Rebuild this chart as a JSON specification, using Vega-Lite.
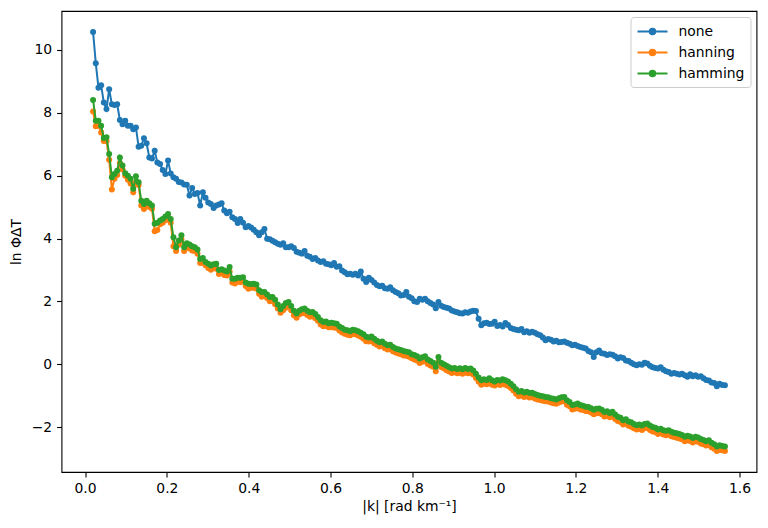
{
"$schema": "https://vega.github.io/schema/vega-lite/v6.json",
"width": 695, "height": 461,
"autosize": {"type": "none"},
"padding": {"left": 61.5, "top": 11, "right": 11.5, "bottom": 56},
"background": "white",
"config": {
 "font": "DejaVu Sans",
 "view": {"stroke": "black", "strokeWidth": 1.1},
 "axis": {"domain": false, "grid": false, "tickColor": "black", "tickSize": 4.9, "tickWidth": 1.1, "labelColor": "black", "labelFontSize": 13.9, "labelFont": "DejaVu Sans", "titleFont": "DejaVu Sans", "titleFontSize": 13.9, "titleFontWeight": "normal", "titleColor": "black", "labelPadding": 4.9, "labelFlush": false},
 "legend": {"orient": "top-right", "offset": 6, "padding": 6, "strokeColor": "#cccccc", "fillColor": "white", "cornerRadius": 3, "labelFontSize": 13.9, "labelFont": "DejaVu Sans", "labelColor": "black", "labelOffset": 25, "rowPadding": 5, "symbolType": "M-1,0H3M0.63,0A0.37,0.37,0,1,0,1.37,0A0.37,0.37,0,1,0,0.63,0", "symbolSize": 225, "symbolStrokeWidth": 2}
},
"data": {"values": [
{"k":0.0196,"none":10.57,"hanning":8.04,"hamming":8.41},
{"k":0.0262,"none":9.58,"hanning":7.57,"hamming":7.75},
{"k":0.0327,"none":8.80,"hanning":7.60,"hamming":7.75},
{"k":0.0393,"none":8.88,"hanning":7.37,"hamming":7.59},
{"k":0.0458,"none":8.33,"hanning":7.10,"hamming":7.20},
{"k":0.0524,"none":8.12,"hanning":7.10,"hamming":7.22},
{"k":0.0589,"none":8.75,"hanning":6.51,"hamming":6.69},
{"k":0.0655,"none":8.27,"hanning":5.56,"hamming":5.95},
{"k":0.0720,"none":8.25,"hanning":5.90,"hamming":6.05},
{"k":0.0785,"none":8.27,"hanning":6.02,"hamming":6.16},
{"k":0.0851,"none":7.77,"hanning":6.40,"hamming":6.58},
{"k":0.0916,"none":7.64,"hanning":6.20,"hamming":6.32},
{"k":0.0982,"none":7.75,"hanning":6.00,"hamming":6.08},
{"k":0.1047,"none":7.59,"hanning":5.87,"hamming":6.00},
{"k":0.1113,"none":7.59,"hanning":5.75,"hamming":5.90},
{"k":0.1178,"none":7.48,"hanning":5.47,"hamming":5.58},
{"k":0.1244,"none":7.53,"hanning":5.80,"hamming":5.98},
{"k":0.1309,"none":6.92,"hanning":5.70,"hamming":5.79},
{"k":0.1374,"none":6.95,"hanning":5.05,"hamming":5.20},
{"k":0.1440,"none":7.19,"hanning":4.94,"hamming":5.10},
{"k":0.1505,"none":7.03,"hanning":5.05,"hamming":5.20},
{"k":0.1571,"none":6.58,"hanning":5.00,"hamming":5.12},
{"k":0.1636,"none":6.55,"hanning":4.95,"hamming":5.05},
{"k":0.1702,"none":6.79,"hanning":4.23,"hamming":4.47},
{"k":0.1767,"none":6.42,"hanning":4.27,"hamming":4.50},
{"k":0.1833,"none":6.37,"hanning":4.45,"hamming":4.57},
{"k":0.1898,"none":6.18,"hanning":4.50,"hamming":4.62},
{"k":0.1964,"none":6.05,"hanning":4.58,"hamming":4.70},
{"k":0.2029,"none":6.48,"hanning":4.68,"hamming":4.78},
{"k":0.2094,"none":6.07,"hanning":4.50,"hamming":4.62},
{"k":0.2160,"none":5.95,"hanning":3.75,"hamming":4.04},
{"k":0.2225,"none":5.90,"hanning":3.60,"hamming":3.72},
{"k":0.2291,"none":5.80,"hanning":3.80,"hamming":3.94},
{"k":0.2356,"none":5.78,"hanning":3.98,"hamming":4.10},
{"k":0.2422,"none":5.72,"hanning":3.60,"hamming":3.72},
{"k":0.2487,"none":5.71,"hanning":3.72,"hamming":3.85},
{"k":0.2553,"none":5.37,"hanning":3.68,"hamming":3.81},
{"k":0.2618,"none":5.61,"hanning":3.62,"hamming":3.75},
{"k":0.2683,"none":5.42,"hanning":3.60,"hamming":3.72},
{"k":0.2749,"none":5.45,"hanning":3.52,"hamming":3.65},
{"k":0.2814,"none":5.05,"hanning":3.22,"hamming":3.35},
{"k":0.2880,"none":5.47,"hanning":3.23,"hamming":3.38},
{"k":0.2945,"none":5.30,"hanning":3.15,"hamming":3.25},
{"k":0.3011,"none":5.15,"hanning":3.06,"hamming":3.20},
{"k":0.3076,"none":5.10,"hanning":3.01,"hamming":3.14},
{"k":0.3142,"none":4.97,"hanning":3.07,"hamming":3.18},
{"k":0.3207,"none":5.05,"hanning":3.04,"hamming":3.20},
{"k":0.3273,"none":5.08,"hanning":2.87,"hamming":3.00},
{"k":0.3338,"none":5.12,"hanning":2.91,"hamming":3.02},
{"k":0.3403,"none":4.89,"hanning":2.84,"hamming":2.98},
{"k":0.3469,"none":4.80,"hanning":2.82,"hamming":2.95},
{"k":0.3534,"none":4.85,"hanning":2.95,"hamming":3.09},
{"k":0.3600,"none":4.68,"hanning":2.60,"hamming":2.72},
{"k":0.3665,"none":4.62,"hanning":2.57,"hamming":2.72},
{"k":0.3731,"none":4.49,"hanning":2.65,"hamming":2.75},
{"k":0.3796,"none":4.62,"hanning":2.61,"hamming":2.75},
{"k":0.3862,"none":4.50,"hanning":2.64,"hamming":2.77},
{"k":0.3927,"none":4.36,"hanning":2.49,"hamming":2.60},
{"k":0.3992,"none":4.40,"hanning":2.40,"hamming":2.56},
{"k":0.4058,"none":4.35,"hanning":2.43,"hamming":2.55},
{"k":0.4123,"none":4.28,"hanning":2.43,"hamming":2.56},
{"k":0.4189,"none":4.20,"hanning":2.41,"hamming":2.54},
{"k":0.4254,"none":4.10,"hanning":2.24,"hamming":2.35},
{"k":0.4320,"none":4.20,"hanning":2.15,"hamming":2.30},
{"k":0.4385,"none":4.30,"hanning":2.17,"hamming":2.30},
{"k":0.4451,"none":3.99,"hanning":2.11,"hamming":2.22},
{"k":0.4516,"none":3.98,"hanning":2.00,"hamming":2.14},
{"k":0.4582,"none":3.93,"hanning":2.02,"hamming":2.14},
{"k":0.4647,"none":3.88,"hanning":1.91,"hamming":2.05},
{"k":0.4712,"none":3.83,"hanning":1.77,"hamming":1.90},
{"k":0.4778,"none":3.80,"hanning":1.64,"hamming":1.75},
{"k":0.4843,"none":3.85,"hanning":1.72,"hamming":1.85},
{"k":0.4909,"none":3.72,"hanning":1.80,"hamming":1.95},
{"k":0.4974,"none":3.72,"hanning":1.85,"hamming":1.98},
{"k":0.5040,"none":3.75,"hanning":1.72,"hamming":1.85},
{"k":0.5105,"none":3.70,"hanning":1.56,"hamming":1.70},
{"k":0.5171,"none":3.58,"hanning":1.48,"hamming":1.61},
{"k":0.5236,"none":3.55,"hanning":1.58,"hamming":1.70},
{"k":0.5301,"none":3.52,"hanning":1.62,"hamming":1.75},
{"k":0.5367,"none":3.60,"hanning":1.63,"hamming":1.77},
{"k":0.5432,"none":3.45,"hanning":1.57,"hamming":1.70},
{"k":0.5498,"none":3.42,"hanning":1.51,"hamming":1.65},
{"k":0.5563,"none":3.35,"hanning":1.53,"hamming":1.66},
{"k":0.5629,"none":3.38,"hanning":1.46,"hamming":1.60},
{"k":0.5694,"none":3.30,"hanning":1.38,"hamming":1.50},
{"k":0.5760,"none":3.25,"hanning":1.26,"hamming":1.40},
{"k":0.5825,"none":3.28,"hanning":1.21,"hamming":1.34},
{"k":0.5891,"none":3.20,"hanning":1.22,"hamming":1.36},
{"k":0.5956,"none":3.18,"hanning":1.18,"hamming":1.30},
{"k":0.6021,"none":3.15,"hanning":1.18,"hamming":1.32},
{"k":0.6087,"none":3.22,"hanning":1.17,"hamming":1.30},
{"k":0.6152,"none":3.10,"hanning":1.15,"hamming":1.29},
{"k":0.6218,"none":3.12,"hanning":1.07,"hamming":1.20},
{"k":0.6283,"none":2.98,"hanning":1.01,"hamming":1.15},
{"k":0.6349,"none":2.93,"hanning":0.97,"hamming":1.10},
{"k":0.6414,"none":2.86,"hanning":0.94,"hamming":1.08},
{"k":0.6480,"none":2.88,"hanning":0.92,"hamming":1.05},
{"k":0.6545,"none":2.85,"hanning":0.96,"hamming":1.10},
{"k":0.6610,"none":2.88,"hanning":0.95,"hamming":1.08},
{"k":0.6676,"none":2.82,"hanning":0.91,"hamming":1.05},
{"k":0.6741,"none":2.95,"hanning":0.87,"hamming":1.00},
{"k":0.6807,"none":2.72,"hanning":0.81,"hamming":0.95},
{"k":0.6872,"none":2.62,"hanning":0.73,"hamming":0.87},
{"k":0.6938,"none":2.75,"hanning":0.72,"hamming":0.85},
{"k":0.7003,"none":2.68,"hanning":0.74,"hamming":0.88},
{"k":0.7069,"none":2.60,"hanning":0.67,"hamming":0.81},
{"k":0.7134,"none":2.52,"hanning":0.62,"hamming":0.75},
{"k":0.7200,"none":2.48,"hanning":0.56,"hamming":0.70},
{"k":0.7265,"none":2.50,"hanning":0.59,"hamming":0.72},
{"k":0.7330,"none":2.42,"hanning":0.51,"hamming":0.65},
{"k":0.7396,"none":2.40,"hanning":0.47,"hamming":0.60},
{"k":0.7461,"none":2.45,"hanning":0.48,"hamming":0.62},
{"k":0.7527,"none":2.35,"hanning":0.41,"hamming":0.55},
{"k":0.7592,"none":2.30,"hanning":0.37,"hamming":0.50},
{"k":0.7658,"none":2.26,"hanning":0.34,"hamming":0.48},
{"k":0.7723,"none":2.19,"hanning":0.32,"hamming":0.45},
{"k":0.7789,"none":2.20,"hanning":0.28,"hamming":0.42},
{"k":0.7854,"none":2.30,"hanning":0.27,"hamming":0.40},
{"k":0.7919,"none":2.15,"hanning":0.24,"hamming":0.38},
{"k":0.7985,"none":2.10,"hanning":0.19,"hamming":0.32},
{"k":0.8050,"none":2.00,"hanning":0.15,"hamming":0.29},
{"k":0.8116,"none":1.98,"hanning":0.12,"hamming":0.25},
{"k":0.8181,"none":2.08,"hanning":0.04,"hamming":0.18},
{"k":0.8247,"none":2.05,"hanning":0.08,"hamming":0.22},
{"k":0.8312,"none":2.08,"hanning":0.12,"hamming":0.25},
{"k":0.8378,"none":2.00,"hanning":0.01,"hamming":0.15},
{"k":0.8443,"none":1.95,"hanning":-0.04,"hamming":0.10},
{"k":0.8509,"none":1.90,"hanning":-0.08,"hamming":0.05},
{"k":0.8574,"none":1.78,"hanning":-0.22,"hamming":-0.08},
{"k":0.8639,"none":1.98,"hanning":0.08,"hamming":0.23},
{"k":0.8705,"none":1.86,"hanning":-0.09,"hamming":0.05},
{"k":0.8770,"none":1.82,"hanning":-0.13,"hamming":0.00},
{"k":0.8836,"none":1.80,"hanning":-0.19,"hamming":-0.05},
{"k":0.8901,"none":1.77,"hanning":-0.23,"hamming":-0.10},
{"k":0.8967,"none":1.71,"hanning":-0.28,"hamming":-0.14},
{"k":0.9032,"none":1.68,"hanning":-0.25,"hamming":-0.12},
{"k":0.9098,"none":1.65,"hanning":-0.29,"hamming":-0.15},
{"k":0.9163,"none":1.62,"hanning":-0.27,"hamming":-0.13},
{"k":0.9228,"none":1.61,"hanning":-0.30,"hamming":-0.16},
{"k":0.9294,"none":1.65,"hanning":-0.26,"hamming":-0.12},
{"k":0.9359,"none":1.64,"hanning":-0.29,"hamming":-0.15},
{"k":0.9425,"none":1.68,"hanning":-0.28,"hamming":-0.14},
{"k":0.9490,"none":1.70,"hanning":-0.33,"hamming":-0.20},
{"k":0.9556,"none":1.69,"hanning":-0.44,"hamming":-0.30},
{"k":0.9621,"none":1.45,"hanning":-0.56,"hamming":-0.42},
{"k":0.9687,"none":1.24,"hanning":-0.65,"hamming":-0.51},
{"k":0.9752,"none":1.30,"hanning":-0.61,"hamming":-0.48},
{"k":0.9818,"none":1.32,"hanning":-0.64,"hamming":-0.50},
{"k":0.9883,"none":1.28,"hanning":-0.58,"hamming":-0.45},
{"k":0.9948,"none":1.29,"hanning":-0.65,"hamming":-0.51},
{"k":1.0014,"none":1.35,"hanning":-0.68,"hamming":-0.55},
{"k":1.0079,"none":1.22,"hanning":-0.63,"hamming":-0.50},
{"k":1.0145,"none":1.25,"hanning":-0.66,"hamming":-0.52},
{"k":1.0210,"none":1.20,"hanning":-0.62,"hamming":-0.48},
{"k":1.0276,"none":1.31,"hanning":-0.65,"hamming":-0.51},
{"k":1.0341,"none":1.25,"hanning":-0.69,"hamming":-0.55},
{"k":1.0407,"none":1.15,"hanning":-0.76,"hamming":-0.62},
{"k":1.0472,"none":1.12,"hanning":-0.84,"hamming":-0.70},
{"k":1.0537,"none":1.10,"hanning":-0.94,"hamming":-0.80},
{"k":1.0603,"none":1.08,"hanning":-1.02,"hamming":-0.88},
{"k":1.0668,"none":1.12,"hanning":-0.99,"hamming":-0.85},
{"k":1.0734,"none":1.02,"hanning":-1.04,"hamming":-0.90},
{"k":1.0799,"none":1.05,"hanning":-1.02,"hamming":-0.88},
{"k":1.0865,"none":1.00,"hanning":-1.06,"hamming":-0.92},
{"k":1.0930,"none":1.03,"hanning":-1.05,"hamming":-0.91},
{"k":1.0996,"none":1.00,"hanning":-1.09,"hamming":-0.95},
{"k":1.1061,"none":0.95,"hanning":-1.12,"hamming":-0.98},
{"k":1.1127,"none":0.92,"hanning":-1.14,"hamming":-1.00},
{"k":1.1192,"none":0.85,"hanning":-1.16,"hamming":-1.02},
{"k":1.1257,"none":0.76,"hanning":-1.18,"hamming":-1.04},
{"k":1.1323,"none":0.80,"hanning":-1.19,"hamming":-1.05},
{"k":1.1388,"none":0.78,"hanning":-1.22,"hamming":-1.08},
{"k":1.1454,"none":0.72,"hanning":-1.24,"hamming":-1.10},
{"k":1.1519,"none":0.75,"hanning":-1.26,"hamming":-1.12},
{"k":1.1585,"none":0.70,"hanning":-1.22,"hamming":-1.08},
{"k":1.1650,"none":0.71,"hanning":-1.19,"hamming":-1.05},
{"k":1.1716,"none":0.72,"hanning":-1.18,"hamming":-1.04},
{"k":1.1781,"none":0.68,"hanning":-1.29,"hamming":-1.15},
{"k":1.1846,"none":0.65,"hanning":-1.34,"hamming":-1.20},
{"k":1.1912,"none":0.60,"hanning":-1.44,"hamming":-1.30},
{"k":1.1977,"none":0.62,"hanning":-1.42,"hamming":-1.28},
{"k":1.2043,"none":0.58,"hanning":-1.39,"hamming":-1.25},
{"k":1.2108,"none":0.55,"hanning":-1.44,"hamming":-1.30},
{"k":1.2174,"none":0.52,"hanning":-1.46,"hamming":-1.32},
{"k":1.2239,"none":0.50,"hanning":-1.49,"hamming":-1.35},
{"k":1.2305,"none":0.42,"hanning":-1.50,"hamming":-1.36},
{"k":1.2370,"none":0.38,"hanning":-1.54,"hamming":-1.40},
{"k":1.2436,"none":0.23,"hanning":-1.59,"hamming":-1.45},
{"k":1.2501,"none":0.38,"hanning":-1.56,"hamming":-1.42},
{"k":1.2566,"none":0.44,"hanning":-1.55,"hamming":-1.41},
{"k":1.2632,"none":0.35,"hanning":-1.59,"hamming":-1.45},
{"k":1.2697,"none":0.33,"hanning":-1.66,"hamming":-1.52},
{"k":1.2763,"none":0.29,"hanning":-1.64,"hamming":-1.50},
{"k":1.2828,"none":0.32,"hanning":-1.69,"hamming":-1.55},
{"k":1.2894,"none":0.30,"hanning":-1.65,"hamming":-1.51},
{"k":1.2959,"none":0.25,"hanning":-1.74,"hamming":-1.60},
{"k":1.3025,"none":0.18,"hanning":-1.81,"hamming":-1.67},
{"k":1.3090,"none":0.22,"hanning":-1.84,"hamming":-1.70},
{"k":1.3155,"none":0.20,"hanning":-1.92,"hamming":-1.78},
{"k":1.3221,"none":0.12,"hanning":-1.89,"hamming":-1.75},
{"k":1.3286,"none":0.10,"hanning":-1.96,"hamming":-1.82},
{"k":1.3352,"none":0.05,"hanning":-1.99,"hamming":-1.85},
{"k":1.3417,"none":0.00,"hanning":-2.04,"hamming":-1.90},
{"k":1.3483,"none":-0.03,"hanning":-2.08,"hamming":-1.94},
{"k":1.3548,"none":0.00,"hanning":-2.06,"hamming":-1.92},
{"k":1.3614,"none":-0.02,"hanning":-2.09,"hamming":-1.95},
{"k":1.3679,"none":0.05,"hanning":-2.04,"hamming":-1.90},
{"k":1.3745,"none":0.02,"hanning":-2.03,"hamming":-1.89},
{"k":1.3810,"none":-0.05,"hanning":-2.09,"hamming":-1.95},
{"k":1.3875,"none":-0.10,"hanning":-2.14,"hamming":-2.00},
{"k":1.3941,"none":-0.12,"hanning":-2.16,"hamming":-2.02},
{"k":1.4006,"none":-0.14,"hanning":-2.22,"hamming":-2.08},
{"k":1.4072,"none":-0.10,"hanning":-2.19,"hamming":-2.05},
{"k":1.4137,"none":-0.18,"hanning":-2.24,"hamming":-2.10},
{"k":1.4203,"none":-0.22,"hanning":-2.26,"hamming":-2.12},
{"k":1.4268,"none":-0.25,"hanning":-2.24,"hamming":-2.10},
{"k":1.4334,"none":-0.30,"hanning":-2.29,"hamming":-2.15},
{"k":1.4399,"none":-0.28,"hanning":-2.32,"hamming":-2.18},
{"k":1.4464,"none":-0.30,"hanning":-2.34,"hamming":-2.20},
{"k":1.4530,"none":-0.33,"hanning":-2.36,"hamming":-2.22},
{"k":1.4595,"none":-0.30,"hanning":-2.39,"hamming":-2.25},
{"k":1.4661,"none":-0.35,"hanning":-2.45,"hamming":-2.31},
{"k":1.4726,"none":-0.40,"hanning":-2.42,"hamming":-2.28},
{"k":1.4792,"none":-0.32,"hanning":-2.44,"hamming":-2.30},
{"k":1.4857,"none":-0.38,"hanning":-2.49,"hamming":-2.35},
{"k":1.4923,"none":-0.35,"hanning":-2.45,"hamming":-2.31},
{"k":1.4988,"none":-0.40,"hanning":-2.47,"hamming":-2.33},
{"k":1.5054,"none":-0.38,"hanning":-2.52,"hamming":-2.38},
{"k":1.5119,"none":-0.45,"hanning":-2.55,"hamming":-2.41},
{"k":1.5184,"none":-0.50,"hanning":-2.59,"hamming":-2.45},
{"k":1.5250,"none":-0.52,"hanning":-2.56,"hamming":-2.42},
{"k":1.5315,"none":-0.58,"hanning":-2.64,"hamming":-2.50},
{"k":1.5381,"none":-0.60,"hanning":-2.69,"hamming":-2.55},
{"k":1.5446,"none":-0.70,"hanning":-2.76,"hamming":-2.62},
{"k":1.5512,"none":-0.62,"hanning":-2.72,"hamming":-2.58},
{"k":1.5577,"none":-0.66,"hanning":-2.74,"hamming":-2.60},
{"k":1.5643,"none":-0.67,"hanning":-2.76,"hamming":-2.62}
]},
"transform": [{"fold": ["none", "hanning", "hamming"], "as": ["series", "lnphi"]}],
"encoding": {
 "x": {"field": "k", "type": "quantitative", "scale": {"domain": [-0.0576, 1.6415], "nice": false, "zero": false}, "axis": {"values": [0, 0.2, 0.4, 0.6, 0.8, 1.0, 1.2, 1.4, 1.6], "format": ".1f", "title": "|k| [rad km⁻¹]", "titlePadding": 4}},
 "y": {"field": "lnphi", "type": "quantitative", "scale": {"domain": [-3.43, 11.24], "nice": false, "zero": false}, "axis": {"values": [-2, 0, 2, 4, 6, 8, 10], "format": "d", "title": "ln ΦΔT", "titlePadding": 8}},
 "color": {"field": "series", "type": "nominal", "scale": {"domain": ["none", "hanning", "hamming"], "range": ["#1f77b4", "#ff7f0e", "#2ca02c"]}, "legend": {"title": null}}
},
"layer": [
 {"transform": [{"filter": "datum.series === 'none'"}], "mark": {"type": "line", "strokeWidth": 2}},
 {"transform": [{"filter": "datum.series === 'none'"}], "mark": {"type": "point", "filled": true, "size": 36, "opacity": 1}},
 {"transform": [{"filter": "datum.series === 'hanning'"}], "mark": {"type": "line", "strokeWidth": 2}},
 {"transform": [{"filter": "datum.series === 'hanning'"}], "mark": {"type": "point", "filled": true, "size": 36, "opacity": 1}},
 {"transform": [{"filter": "datum.series === 'hamming'"}], "mark": {"type": "line", "strokeWidth": 2}},
 {"transform": [{"filter": "datum.series === 'hamming'"}], "mark": {"type": "point", "filled": true, "size": 36, "opacity": 1}}
]
}
